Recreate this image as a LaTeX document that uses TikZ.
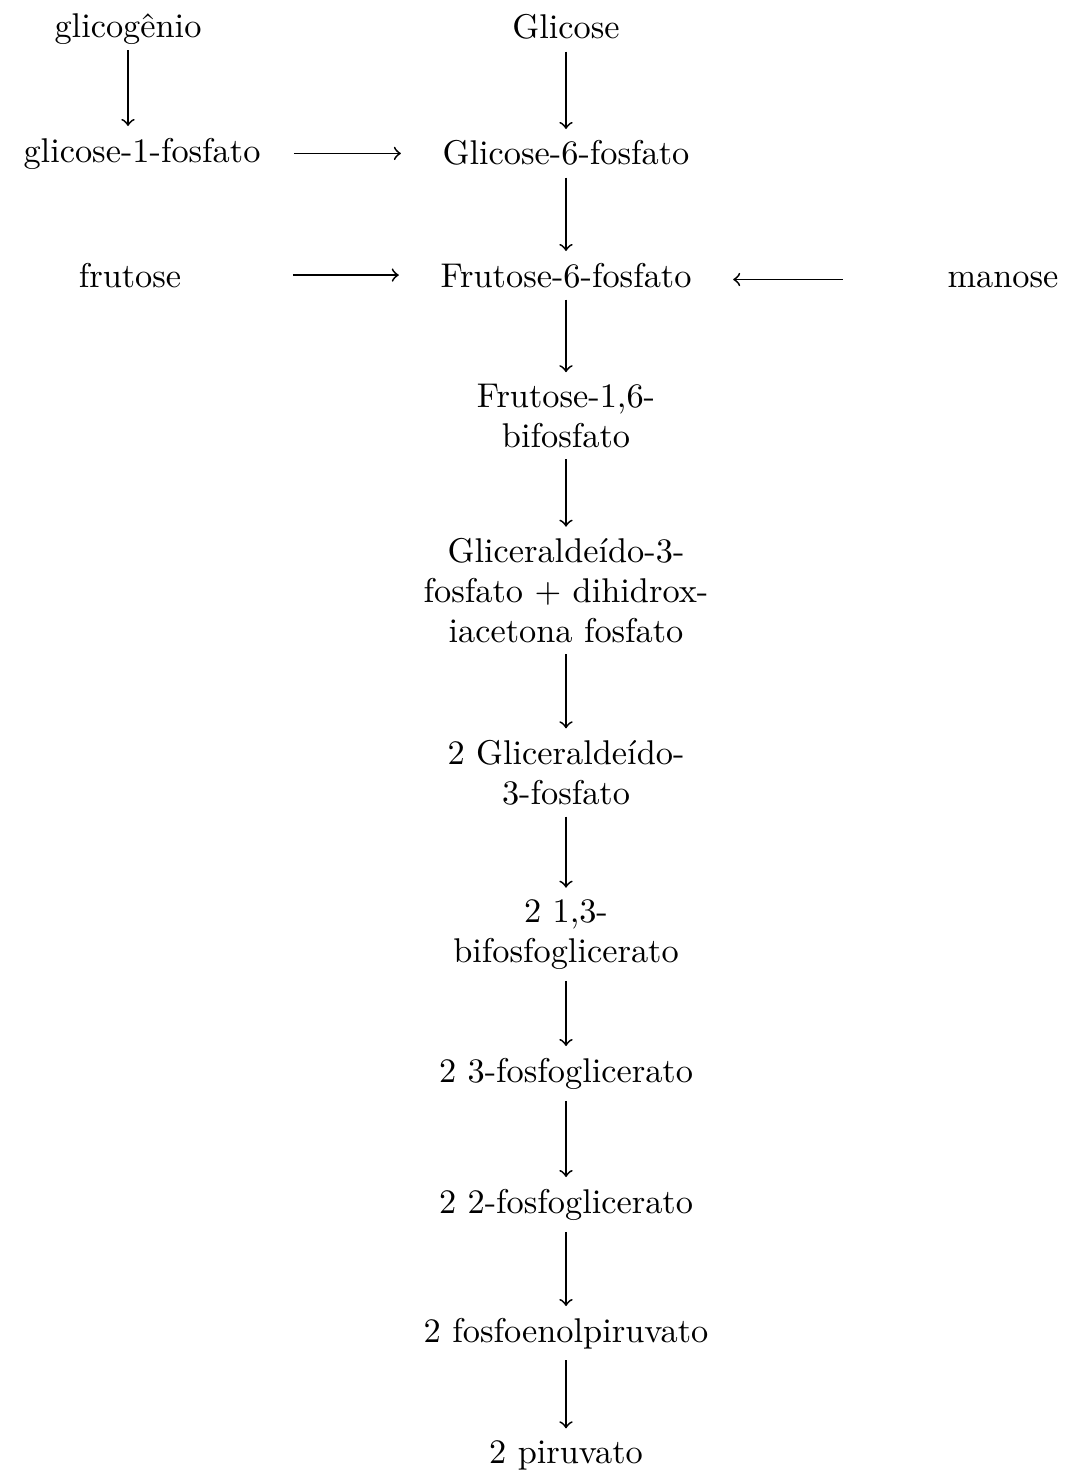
\documentclass[tikz,border=0pt]{standalone}
\begin{document}
\begin{tikzpicture}[x=0.3pt,y=-0.3pt,
  met/.style={anchor=base, align=center, font=\fontsize{10.3}{11.9}\selectfont},
  arr/.style={->, line width=0.55pt}]
\useasboundingbox (0,0) rectangle (1064,1475);

% side entries
\node[met] (glicogenio) at (128,38)  {glicogênio};
\node[met] (g1p)        at (142,162) {glicose-1-fosfato};
\node[met] (frutose)    at (130,287) {frutose};
\node[met] (manose)     at (1003,287) {manose};

% main pathway (base anchor = baseline of the last line)
\node[met] (glc)  at (566,39)   {Glicose};
\node[met] (g6p)  at (566,165)  {Glicose-6-fosfato};
\node[met] (f6p)  at (566,287)  {Frutose-6-fosfato};
\node[met] (fbp)  at (566,447)  {Frutose-1,6-\\bifosfato};
\node[met] (gap)  at (566,642)  {Gliceraldeído-3-\\fosfato + dihidrox-\\iacetona fosfato};
\node[met] (gap2) at (566,804)  {2 Gliceraldeído-\\3-fosfato};
\node[met] (bpg)  at (566,962)  {2 1,3-\\bifosfoglicerato};
\node[met] (pg3)  at (566,1082) {2 3-fosfoglicerato};
\node[met] (pg2)  at (566,1213) {2 2-fosfoglicerato};
\node[met] (pep)  at (566,1342) {2 fosfoenolpiruvato};
\node[met] (pyr)  at (566,1463) {2 piruvato};

% side reactions
\draw[arr, shorten <=-2pt] (glicogenio.south) -- (glicogenio.south |- g1p.north);
\draw[arr, shorten <=6.5pt, shorten >=9pt] (g1p.east) -- (g1p.east -| g6p.west);
\draw[arr, shorten <=30pt, shorten >=9pt] (frutose.east) -- (frutose.east -| f6p.west);
\draw[arr, shorten <=28pt, shorten >=9pt] (manose.west) -- (manose.west -| f6p.east);

% main chain
\draw[arr] (glc.south) -- (g6p.north);
\draw[arr] (g6p.south) -- (f6p.north);
\draw[arr] (f6p.south) -- (fbp.north);
\draw[arr] (fbp.south) -- (gap.north);
\draw[arr] (gap.south) -- (gap2.north);
\draw[arr] (gap2.south) -- (bpg.north);
\draw[arr] (bpg.south) -- (pg3.north);
\draw[arr] (pg3.south) -- (pg2.north);
\draw[arr] (pg2.south) -- (pep.north);
\draw[arr] (pep.south) -- (pyr.north);
\end{tikzpicture}
\end{document}
